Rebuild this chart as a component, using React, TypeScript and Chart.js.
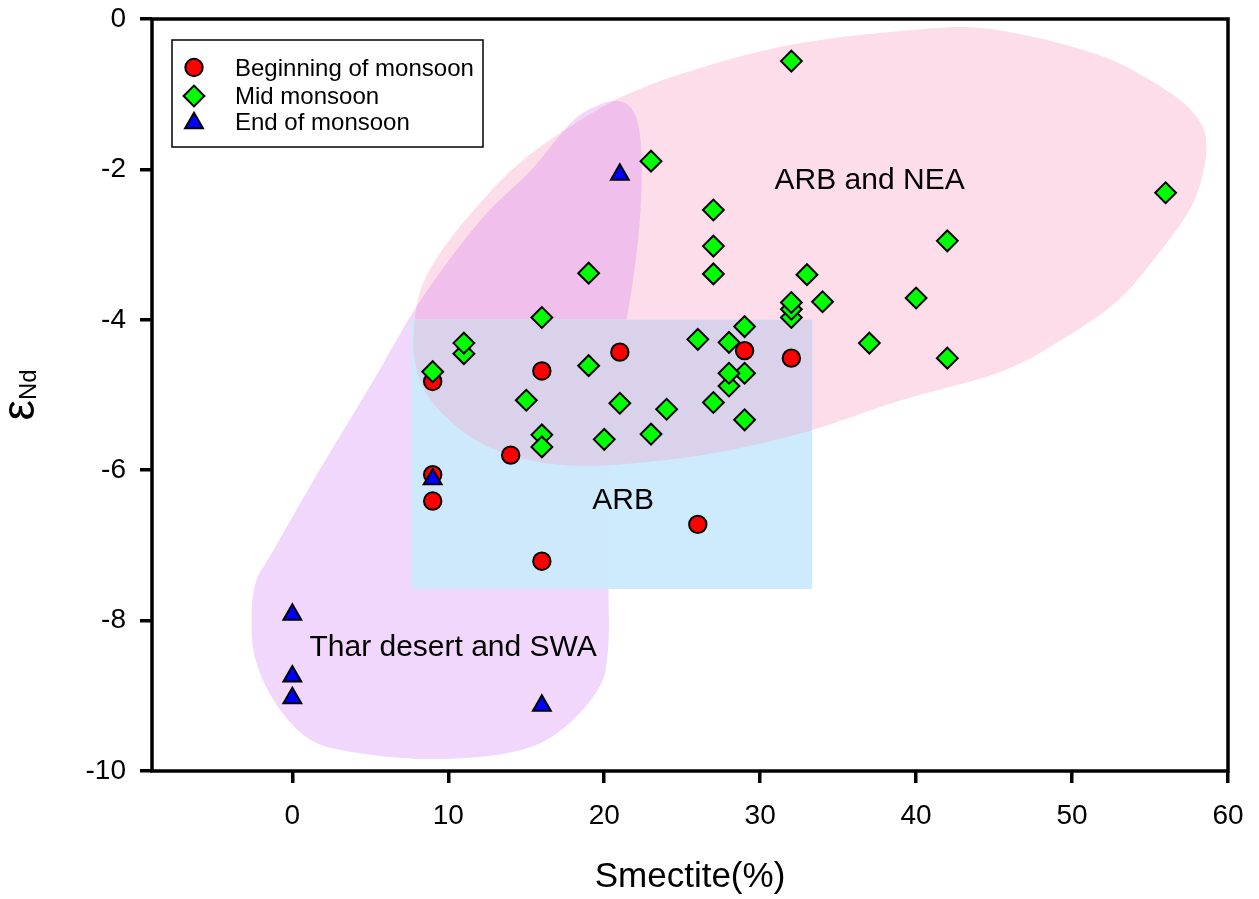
import React, { useEffect, useRef } from 'react';
import { Chart, registerables } from 'chart.js';

Chart.register(...registerables);

const FONT = "'Liberation Sans', Arial, sans-serif";

// ---- data ----
const seriesLabels = ['Beginning of monsoon', 'Mid monsoon', 'End of monsoon'];

const beginningX = [9, 9, 9, 16, 21, 14, 29, 32, 26, 16];
const beginningY = [-4.82, -6.06, -6.41, -4.68, -4.43, -5.8, -4.41, -4.51, -6.72, -7.21];

const midX = [32, 23, 56, 27, 27, 27, 19, 42, 33, 32, 32, 32, 34, 40, 37, 42, 16, 26, 29, 28, 28, 29, 28, 27, 29, 19, 15, 21, 24, 23, 20, 16, 16, 11, 11, 9];
const midY = [-0.56, -1.89, -2.31, -2.54, -3.02, -3.39, -3.38, -2.95, -3.4, -3.97, -3.86, -3.77, -3.76, -3.71, -4.31, -4.51, -3.97, -4.26, -4.09, -4.3, -4.88, -4.71, -4.71, -5.1, -5.33, -4.61, -5.07, -5.11, -5.19, -5.52, -5.59, -5.53, -5.69, -4.45, -4.31, -4.69];

const endX = [21, 9, 0, 0, 0, 16];
const endY = [-2.07, -6.12, -7.92, -8.74, -9.03, -9.13];

const xTicks = [0, 10, 20, 30, 40, 50, 60];
const yTicks = [-10, -8, -6, -4, -2, 0];
const xTitle = 'Smectite(%)';
const yTitleMain = 'ε';
const yTitleSub = 'Nd';

// ---- region annotations (data units) ----
const regionLabels = ['ARB and NEA', 'ARB', 'Thar desert and SWA'];
const regionLabelX = [37.02, 21.21, 10.31];
const regionLabelY = [-2.15, -6.4, -8.36];

const arbNeaOutlineX = [7.79, 8.23, 9.52, 11.76, 14.65, 18.5, 22.16, 27.49, 32.62, 39.04, 44.62, 51.6, 55.9, 58.0, 58.62, 57.85, 55.73, 52.97, 49.31, 45.46, 39.04, 32.62, 26.21, 19.15, 14.65, 11.44, 8.88, 7.91];
const arbNeaOutlineY = [-4.14, -3.6, -3.1, -2.51, -1.9, -1.34, -0.94, -0.57, -0.32, -0.16, -0.13, -0.47, -0.93, -1.3, -1.72, -2.41, -3.07, -3.74, -4.27, -4.69, -5.07, -5.51, -5.8, -5.94, -5.84, -5.56, -5.07, -4.6];

const tharOutlineX = [20.89, 21.91, 22.36, 22.36, 22.1, 21.65, 21.07, 20.62, 20.43, 20.3, 20.28, 20.24, 19.6, 17.03, 13.82, 8.43, 3.1, 0.72, -1.2, -2.36, -2.61, -2.36, -1.2, 1.37, 5.22, 8.23, 12.09, 15.3, 17.87, 19.47];
const tharOutlineY = [-1.09, -1.24, -1.68, -2.41, -3.07, -3.74, -4.4, -5.07, -5.86, -6.8, -7.63, -8.39, -8.92, -9.49, -9.76, -9.84, -9.72, -9.52, -9.06, -8.52, -8.02, -7.5, -7.06, -6.13, -4.8, -3.74, -2.67, -2.01, -1.38, -1.16];

const arbRectX = [7.64, 33.33];
const arbRectY = [-4.0, -7.58];

// ---- colours ----
const pinkFill = '#FDDDE9';
const tharFill = '#F1D7FC';
const pinkTharFill = '#F1BFEB';
const rectFill = '#CDEBFC';
const rectTharFill = '#CEE9FC';
const rectPinkFill = '#D9D2EA';

function smoothClosedPath(px: number[], py: number[]): Path2D {
  const p = new Path2D();
  const n = px.length;
  p.moveTo(px[0], py[0]);
  for (let i = 0; i < n; i++) {
    const i0 = (i - 1 + n) % n, i1 = i, i2 = (i + 1) % n, i3 = (i + 2) % n;
    const c1x = px[i1] + (px[i2] - px[i0]) / 6;
    const c1y = py[i1] + (py[i2] - py[i0]) / 6;
    const c2x = px[i2] - (px[i3] - px[i1]) / 6;
    const c2y = py[i2] - (py[i3] - py[i1]) / 6;
    p.bezierCurveTo(c1x, c1y, c2x, c2y, px[i2], py[i2]);
  }
  p.closePath();
  return p;
}

function drawMarker(ctx: CanvasRenderingContext2D, style: string, x: number, y: number, r: number, fill: string) {
  ctx.beginPath();
  if (style === 'circle') {
    ctx.arc(x, y, r, 0, Math.PI * 2);
  } else if (style === 'rectRot') {
    ctx.moveTo(x - r, y);
    ctx.lineTo(x, y - r);
    ctx.lineTo(x + r, y);
    ctx.lineTo(x, y + r);
    ctx.closePath();
  } else {
    ctx.moveTo(x, y - r);
    ctx.lineTo(x + r * Math.sin((2 * Math.PI) / 3), y - r * Math.cos((2 * Math.PI) / 3));
    ctx.lineTo(x + r * Math.sin((4 * Math.PI) / 3), y - r * Math.cos((4 * Math.PI) / 3));
    ctx.closePath();
  }
  ctx.fillStyle = fill;
  ctx.fill();
  ctx.lineWidth = 2;
  ctx.strokeStyle = '#000';
  ctx.stroke();
}

const regionPlugin = {
  id: 'regions',
  beforeDatasetsDraw(chart: any) {
    const { ctx, chartArea, scales } = chart;
    const xs = scales.x, ys = scales.y;
    ctx.save();
    ctx.beginPath();
    ctx.rect(chartArea.left, chartArea.top, chartArea.right - chartArea.left, chartArea.bottom - chartArea.top);
    ctx.clip();
    const pink = smoothClosedPath(arbNeaOutlineX.map((v) => xs.getPixelForValue(v)), arbNeaOutlineY.map((v) => ys.getPixelForValue(v)));
    const thar = smoothClosedPath(tharOutlineX.map((v) => xs.getPixelForValue(v)), tharOutlineY.map((v) => ys.getPixelForValue(v)));
    const rect = new Path2D();
    const rx0 = xs.getPixelForValue(arbRectX[0]);
    const rx1 = xs.getPixelForValue(arbRectX[1]);
    const ry0 = ys.getPixelForValue(arbRectY[0]);
    const ry1 = ys.getPixelForValue(arbRectY[1]);
    rect.rect(rx0, ry0, rx1 - rx0, ry1 - ry0);

    ctx.fillStyle = tharFill;
    ctx.fill(thar);
    ctx.fillStyle = pinkFill;
    ctx.fill(pink);
    ctx.save();
    ctx.clip(pink);
    ctx.fillStyle = pinkTharFill;
    ctx.fill(thar);
    ctx.restore();
    ctx.fillStyle = rectFill;
    ctx.fill(rect);
    ctx.save();
    ctx.clip(rect);
    ctx.fillStyle = rectTharFill;
    ctx.fill(thar);
    ctx.fillStyle = rectPinkFill;
    ctx.fill(pink);
    ctx.restore();

    ctx.fillStyle = '#000';
    ctx.font = `30px ${FONT}`;
    ctx.textAlign = 'center';
    ctx.textBaseline = 'middle';
    regionLabels.forEach((t, i) => {
      ctx.fillText(t, xs.getPixelForValue(regionLabelX[i]), ys.getPixelForValue(regionLabelY[i]));
    });
    ctx.restore();
  },
  afterDraw(chart: any) {
    const { ctx, chartArea } = chart;
    ctx.save();
    // frame
    ctx.lineWidth = 3.5;
    ctx.strokeStyle = '#000';
    ctx.strokeRect(chartArea.left, chartArea.top, chartArea.right - chartArea.left, chartArea.bottom - chartArea.top);

    // legend
    const lx = chartArea.left + 20;
    const ly = chartArea.top + 21;
    ctx.fillStyle = '#fff';
    ctx.fillRect(lx, ly, 311, 107);
    ctx.lineWidth = 1.5;
    ctx.strokeRect(lx, ly, 311, 107);
    const ds = chart.data.datasets;
    const markerY = [27.5, 56, 83];
    const textY = [36.3, 63.9, 90.3];
    ds.forEach((d: any, i: number) => {
      drawMarker(ctx, d.pointStyle, lx + 22, ly + markerY[i], d.pointRadius, d.backgroundColor);
      ctx.fillStyle = '#000';
      ctx.font = `24px ${FONT}`;
      ctx.textAlign = 'left';
      ctx.textBaseline = 'alphabetic';
      ctx.fillText(d.label, lx + 63, ly + textY[i]);
    });

    // y title with subscript
    const cy = (chartArea.top + chartArea.bottom) / 2;
    ctx.font = `46px ${FONT}`;
    const w1 = ctx.measureText(yTitleMain).width;
    ctx.font = `24px ${FONT}`;
    const w2 = ctx.measureText(yTitleSub).width;
    const total = w1 + w2;
    ctx.translate(34, cy + total / 2);
    ctx.rotate(-Math.PI / 2);
    ctx.textAlign = 'left';
    ctx.textBaseline = 'alphabetic';
    ctx.fillStyle = '#000';
    ctx.font = `46px ${FONT}`;
    ctx.fillText(yTitleMain, 0, 0);
    ctx.font = `24px ${FONT}`;
    ctx.fillText(yTitleSub, w1, 2);
    ctx.restore();
  },
};

export default function App() {
  const ref = useRef<HTMLCanvasElement>(null);
  useEffect(() => {
    const canvas = ref.current;
    if (!canvas) return;
    const tickGrid = {
      display: true,
      drawOnChartArea: false,
      drawTicks: true,
      tickLength: 12,
      tickWidth: 3.5,
      tickColor: '#000',
      color: '#000',
      lineWidth: 3.5,
    };
    const chart = new Chart(canvas, {
      type: 'scatter',
      data: {
        datasets: [
          {
            label: seriesLabels[0],
            data: beginningX.map((x, i) => ({ x, y: beginningY[i] })),
            pointStyle: 'circle',
            pointRadius: 8.7,
            backgroundColor: '#FF0000',
            borderColor: '#000',
            borderWidth: 2,
            order: 2,
          },
          {
            label: seriesLabels[1],
            data: midX.map((x, i) => ({ x, y: midY[i] })),
            pointStyle: 'rectRot',
            pointRadius: 10.4,
            backgroundColor: '#00FF00',
            borderColor: '#000',
            borderWidth: 2,
            order: 1,
          },
          {
            label: seriesLabels[2],
            data: endX.map((x, i) => ({ x, y: endY[i] })),
            pointStyle: 'triangle',
            pointRadius: 10.3,
            backgroundColor: '#0000FF',
            borderColor: '#000',
            borderWidth: 2,
            order: 0,
          },
        ],
      },
      options: {
        responsive: false,
        animation: false,
        events: [],
        layout: { padding: { top: 19, right: 31, left: 0, bottom: 0 } },
        plugins: { legend: { display: false }, tooltip: { enabled: false } },
        scales: {
          x: {
            type: 'linear',
            min: -9,
            max: 60,
            afterBuildTicks: (s: any) => {
              s.ticks = xTicks.map((v) => ({ value: v }));
            },
            afterFit: (s: any) => {
              s.height = 128;
              s.paddingLeft = 0;
              s.paddingRight = 0;
              s.paddingTop = 0;
              s.paddingBottom = 0;
            },
            grid: tickGrid,
            border: { display: false },
            ticks: {
              font: { size: 28, family: FONT },
              color: '#000',
              padding: 16,
              maxRotation: 0,
              autoSkip: false,
              callback: (v: any) => String(v),
            },
            title: {
              display: true,
              text: xTitle,
              font: { size: 35, family: FONT },
              color: '#000',
              padding: { top: 0, bottom: 1 },
            },
          },
          y: {
            type: 'linear',
            min: -10,
            max: 0,
            afterBuildTicks: (s: any) => {
              s.ticks = yTicks.map((v) => ({ value: v }));
            },
            afterFit: (s: any) => {
              s.width = 152;
              s.paddingLeft = 0;
              s.paddingRight = 0;
              s.paddingTop = 0;
              s.paddingBottom = 0;
            },
            grid: tickGrid,
            border: { display: false },
            ticks: {
              font: { size: 28, family: FONT },
              color: '#000',
              padding: 14,
              autoSkip: false,
              callback: (v: any) => String(v),
            },
          },
        },
      } as any,
      plugins: [regionPlugin],
    });
    return () => chart.destroy();
  }, []);
  return (
    <div style={{ position: 'absolute', left: 0, top: 0, width: 1259, height: 899, background: '#fff' }}>
      <canvas ref={ref} width={1259} height={899} style={{ display: 'block' }} />
    </div>
  );
}
